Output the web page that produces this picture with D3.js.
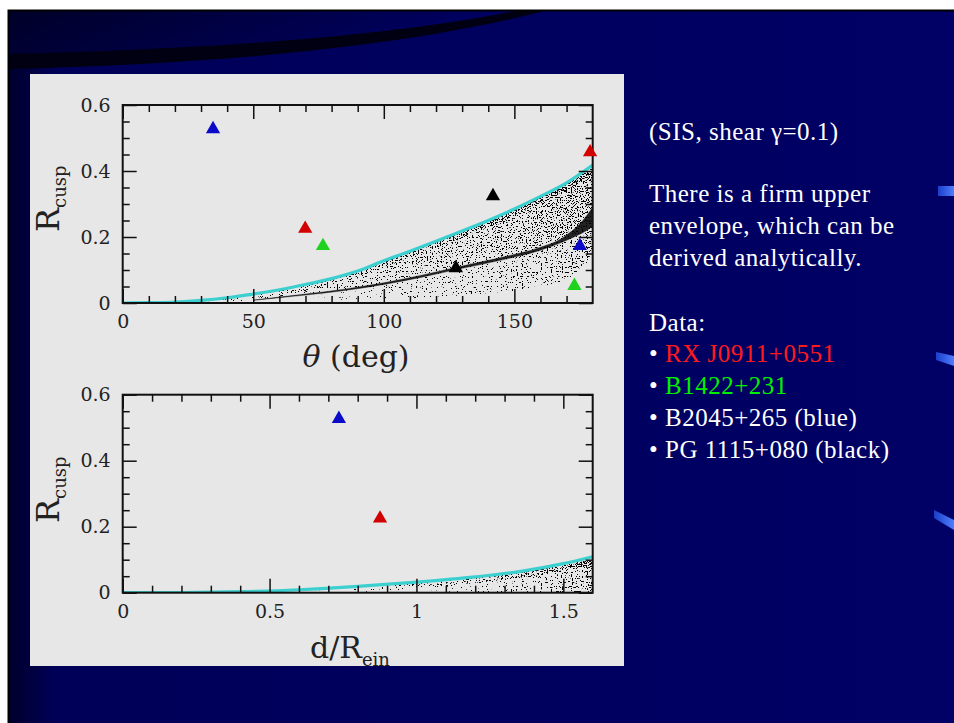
<!DOCTYPE html>
<html>
<head>
<meta charset="utf-8">
<script src="https://cdn.jsdelivr.net/npm/d3@7"></script>
<style>
  html, body { margin: 0; padding: 0; background: #ffffff; }
  svg { display: block; }
</style>
</head>
<body>
<svg id="slide" width="954" height="723"></svg>
<script>
// ---------------- data ----------------
// axis ticks
const thetaMajorTicks = [0, 50, 100, 150];
const thetaTickLabels = ["0", "50", "100", "150"];
const thetaMinorTicks = [10, 20, 30, 40, 60, 70, 80, 90, 110, 120, 130, 140, 160, 170];
const rMajorTicks = [0, 0.2, 0.4, 0.6];
const rTickLabels = ["0", "0.2", "0.4", "0.6"];
const rMinorTicks = [0.05, 0.1, 0.15, 0.25, 0.3, 0.35, 0.45, 0.5, 0.55];
const dMajorTicks = [0, 0.5, 1, 1.5];
const dTickLabels = ["0", "0.5", "1", "1.5"];
const dMinorTicks = [0.1, 0.2, 0.3, 0.4, 0.6, 0.7, 0.8, 0.9, 1.1, 1.2, 1.3, 1.4];

// analytic upper envelope, R_cusp vs opening angle theta (deg)
const envTheta = [0, 10, 20, 30, 40, 50, 60, 70, 80, 90, 100, 110, 120, 130, 140, 150, 160, 170, 180];
const envR     = [0, 0.001, 0.003, 0.008, 0.016, 0.027, 0.04, 0.056, 0.074, 0.097, 0.128, 0.157, 0.187, 0.218, 0.25, 0.285, 0.323, 0.364, 0.418];

// simulated cusp configurations: extent of the point cloud
const cloudTheta = [30, 40, 50, 60, 70, 80, 90, 100, 110, 120, 130, 140, 150, 160, 170, 175, 180];
const cloudLow   = [0, 0, 0.001, 0.002, 0.003, 0.005, 0.007, 0.01, 0.013, 0.017, 0.022, 0.028, 0.036, 0.048, 0.07, 0.1, 0.14];
const cloudHigh  = [0.007, 0.015, 0.025, 0.038, 0.054, 0.072, 0.095, 0.125, 0.155, 0.185, 0.216, 0.248, 0.283, 0.32, 0.36, 0.385, 0.41];
// dense ridge inside the cloud
const ridgeTheta = [50, 60, 70, 85, 100, 115, 130, 145, 160, 168, 172, 176, 180];
const ridgeLow   = [0.008, 0.016, 0.024, 0.038, 0.056, 0.079, 0.105, 0.13, 0.16, 0.183, 0.197, 0.212, 0.232];
const ridgeHigh  = [0.009, 0.018, 0.027, 0.042, 0.061, 0.085, 0.112, 0.138, 0.169, 0.195, 0.218, 0.248, 0.29];

// analytic upper envelope, R_cusp vs d / R_ein
const envD  = [0, 0.2, 0.4, 0.6, 0.8, 1.0, 1.2, 1.35, 1.5, 1.6];
const envDR = [0, 0.0005, 0.003, 0.009, 0.019, 0.032, 0.048, 0.064, 0.088, 0.109];
const dCloudD    = [0.5, 0.6, 0.7, 0.8, 0.9, 1.0, 1.1, 1.2, 1.3, 1.4, 1.5, 1.6];
const dCloudHigh = [0.003, 0.007, 0.011, 0.016, 0.022, 0.029, 0.037, 0.046, 0.057, 0.069, 0.084, 0.102];

// observed lenses
const lensNames  = ["RX J0911+0551", "B1422+231", "B2045+265", "PG 1115+080"];
const lensColors = ["#d20000", "#1ed21e", "#0a0ac8", "#000000"];
const obsLens  = ["RX J0911+0551", "RX J0911+0551", "B1422+231", "B1422+231", "B2045+265", "B2045+265", "PG 1115+080", "PG 1115+080"];
const obsTheta = [69.9, 179.0, 76.7, 173.0, 34.6, 175.1, 141.8, 127.6];
const obsR     = [0.225, 0.457, 0.173, 0.052, 0.527, 0.173, 0.324, 0.106];
const obsDLens = ["B2045+265", "RX J0911+0551"];
const obsD     = [0.736, 0.876];
const obsDR    = [0.527, 0.225];

// slide text
const noteLines = [
  { t: "(SIS, shear \u03b3=0.1)", c: "#ffffff", bullet: false },
  { t: "There is a firm upper", c: "#ffffff", bullet: false },
  { t: "envelope, which can be", c: "#ffffff", bullet: false },
  { t: "derived analytically.", c: "#ffffff", bullet: false },
  { t: "Data:", c: "#ffffff", bullet: false },
  { t: "RX J0911+0551", c: "#ff1a1a", bullet: true },
  { t: "B1422+231", c: "#00f000", bullet: true },
  { t: "B2045+265 (blue)", c: "#ffffff", bullet: true },
  { t: "PG 1115+080 (black)", c: "#ffffff", bullet: true }
];
const noteBaselines = [140, 202, 234, 266, 331, 362, 394, 426, 458];

// ---------------- drawing ----------------
const svg = d3.select("#slide");
const defs = svg.append("defs");
const color = d3.scaleOrdinal().domain(lensNames).range(lensColors);

// slide background
const bgGrad = defs.append("linearGradient").attr("id", "bgGrad")
  .attr("x1", 0).attr("y1", 0).attr("x2", 1).attr("y2", 0);
bgGrad.append("stop").attr("offset", 0).attr("stop-color", "#00002a");
bgGrad.append("stop").attr("offset", 0.05).attr("stop-color", "#000058");
bgGrad.append("stop").attr("offset", 1).attr("stop-color", "#000066");
const topGrad = defs.append("linearGradient").attr("id", "topGrad")
  .attr("x1", 0).attr("y1", 0).attr("x2", 1).attr("y2", 0.2);
topGrad.append("stop").attr("offset", 0).attr("stop-color", "#000028");
topGrad.append("stop").attr("offset", 0.6).attr("stop-color", "#00004c");
topGrad.append("stop").attr("offset", 1).attr("stop-color", "#000066");
const barGrad = defs.append("linearGradient").attr("id", "barGrad")
  .attr("x1", 0).attr("y1", 0).attr("x2", 1).attr("y2", 0);
barGrad.append("stop").attr("offset", 0).attr("stop-color", "#1a3fc8");
barGrad.append("stop").attr("offset", 1).attr("stop-color", "#4f7dff");

svg.append("rect").attr("width", 954).attr("height", 723).attr("fill", "#ffffff");
svg.append("rect").attr("x", 8).attr("y", 10).attr("width", 946).attr("height", 713).attr("fill", "url(#bgGrad)");
svg.append("path").attr("d", "M8,10 L520,10 C400,36 220,50 8,55 Z").attr("fill", "url(#topGrad)");
svg.append("path").attr("d", "M8,54 C220,49 400,35 520,10 L548,10 C420,44 230,64 8,69 Z").attr("fill", "#000012");
svg.append("path").attr("d", "M8.5,723 L8.5,10.5 L954,10.5").attr("fill", "none").attr("stroke", "#000000").attr("stroke-width", 2);
// right edge accents
svg.append("path").attr("d", "M938,186 L954,186 L954,196 L938,196 Z").attr("fill", "url(#barGrad)");
svg.append("path").attr("d", "M936,352 L954,356 L954,366 L936,360 Z").attr("fill", "url(#barGrad)");
svg.append("path").attr("d", "M934,510 L954,520 L954,530 L934,518 Z").attr("fill", "url(#barGrad)");

// figure panel
svg.append("rect").attr("x", 30).attr("y", 74).attr("width", 594).attr("height", 592).attr("fill", "#e7e7e7");

// stipple filter: turns filled areas into a speckle of dots whose density follows the fill opacity
const st = defs.append("filter").attr("id", "stipple")
  .attr("color-interpolation-filters", "sRGB")
  .attr("x", -0.05).attr("y", -0.05).attr("width", 1.1).attr("height", 1.1);
st.append("feTurbulence").attr("type", "fractalNoise").attr("baseFrequency", 0.8)
  .attr("numOctaves", 1).attr("seed", 11).attr("result", "noise");
st.append("feColorMatrix").attr("in", "noise").attr("type", "matrix")
  .attr("values", "0 0 0 0 0  0 0 0 0 0  0 0 0 0 0  2.5 0 0 0 -0.75").attr("result", "na");
st.append("feComposite").attr("in", "na").attr("in2", "SourceAlpha").attr("operator", "arithmetic")
  .attr("k1", 0).attr("k2", 1).attr("k3", 1).attr("k4", -1).attr("result", "sum");
st.append("feComponentTransfer").attr("in", "sum")
  .append("feFuncA").attr("type", "linear").attr("slope", 24).attr("intercept", -12);

function hGrad(id, x, stops) {
  const g = defs.append("linearGradient").attr("id", id)
    .attr("gradientUnits", "userSpaceOnUse")
    .attr("x1", x(stops[0][0])).attr("x2", x(stops[stops.length - 1][0]))
    .attr("y1", 0).attr("y2", 0);
  const span = stops[stops.length - 1][0] - stops[0][0];
  stops.forEach(s => g.append("stop")
    .attr("offset", (s[0] - stops[0][0]) / span)
    .attr("stop-color", "#000").attr("stop-opacity", s[1]));
}

const L = 122.7, R = 592.7;
const fontTick = "DejaVu Serif, serif";

function frame(g, x, y, xMaj, xLab, xMin, yMaj, yLab, yMin, top, bottom, clipId) {
  defs.append("clipPath").attr("id", clipId).append("rect")
    .attr("x", L).attr("y", top).attr("width", R - L).attr("height", bottom - top);
  const tickStyle = sel => {
    sel.select(".domain").remove();
    sel.selectAll(".tick line").attr("stroke", "#111").attr("stroke-width", 1.5);
  };
  // inward ticks on all four sides
  g.append("g").attr("transform", `translate(0,${bottom})`)
    .call(d3.axisBottom(x).tickValues(xMaj).tickSize(-14).tickFormat("")).call(tickStyle);
  g.append("g").attr("transform", `translate(0,${bottom})`)
    .call(d3.axisBottom(x).tickValues(xMin).tickSize(-7).tickFormat("")).call(tickStyle);
  g.append("g").attr("transform", `translate(0,${top})`)
    .call(d3.axisTop(x).tickValues(xMaj).tickSize(-14).tickFormat("")).call(tickStyle);
  g.append("g").attr("transform", `translate(0,${top})`)
    .call(d3.axisTop(x).tickValues(xMin).tickSize(-7).tickFormat("")).call(tickStyle);
  g.append("g").attr("transform", `translate(${L},0)`)
    .call(d3.axisLeft(y).tickValues(yMaj).tickSize(-14).tickFormat("")).call(tickStyle);
  g.append("g").attr("transform", `translate(${L},0)`)
    .call(d3.axisLeft(y).tickValues(yMin).tickSize(-7).tickFormat("")).call(tickStyle);
  g.append("g").attr("transform", `translate(${R},0)`)
    .call(d3.axisRight(y).tickValues(yMaj).tickSize(-14).tickFormat("")).call(tickStyle);
  g.append("g").attr("transform", `translate(${R},0)`)
    .call(d3.axisRight(y).tickValues(yMin).tickSize(-7).tickFormat("")).call(tickStyle);
  // tick labels
  const xl = g.append("g").attr("transform", `translate(0,${bottom})`)
    .call(d3.axisBottom(x).tickValues(xMaj).tickSize(0).tickPadding(12)
      .tickFormat((d, i) => xLab[i]));
  xl.select(".domain").remove();
  xl.selectAll("text").attr("font-family", fontTick).attr("font-size", 19).attr("fill", "#222");
  const yl = g.append("g").attr("transform", `translate(${L},0)`)
    .call(d3.axisLeft(y).tickValues(yMaj).tickSize(0).tickPadding(12)
      .tickFormat((d, i) => yLab[i]));
  yl.select(".domain").remove();
  yl.selectAll("text").attr("font-family", fontTick).attr("font-size", 19).attr("fill", "#222");
  // frame
  g.append("rect").attr("x", L).attr("y", top).attr("width", R - L).attr("height", bottom - top)
    .attr("fill", "none").attr("stroke", "#111").attr("stroke-width", 2);
}

function yTitle(g, xPos, yPos) {
  const t = g.append("text").attr("transform", `translate(${xPos},${yPos}) rotate(-90)`)
    .attr("font-family", fontTick).attr("fill", "#222");
  t.append("tspan").attr("font-size", 32).text("R");
  t.append("tspan").attr("font-size", 18).attr("dy", 7).text("cusp");
}

function triangles(g, xs, ys, names, x, y) {
  g.selectAll("path.obs").data(xs).join("path").attr("class", "obs")
    .attr("transform", (d, i) => `translate(${x(d)},${y(ys[i])})`)
    .attr("d", d3.symbol(d3.symbolTriangle, 88))
    .attr("fill", (d, i) => color(names[i]));
}

// ---- upper panel: R_cusp vs theta ----
const top1 = 105, bot1 = 303;
const x1 = d3.scaleLinear().domain([0, 180]).range([L, R]);
const y1 = d3.scaleLinear().domain([0, 0.6]).range([bot1, top1]);
const p1 = svg.append("g");
const c1 = p1.append("g").attr("clip-path", "url(#clip1)");

hGrad("sparse1", x1, [[30, 0.38], [80, 0.52], [130, 0.62], [170, 0.7], [180, 0.76]]);
hGrad("dense1", x1, [[50, 0.55], [100, 0.68], [150, 0.76], [180, 0.86]]);
hGrad("edge1", x1, [[20, 0.5], [80, 0.68], [140, 0.82], [180, 0.92]]);

const cloudArea = d3.area()
  .x((d, i) => x1(cloudTheta[i])).y0((d, i) => y1(cloudLow[i])).y1((d, i) => y1(cloudHigh[i]));
c1.append("path").attr("d", cloudArea(cloudTheta)).attr("fill", "url(#sparse1)").attr("filter", "url(#stipple)");

const ridgeUpPts = ridgeTheta.map((t, i) => [x1(t), y1(ridgeHigh[i])]);
const cloudTopPts = cloudTheta.filter(t => t >= 50).map(t => [x1(t), y1(cloudHigh[cloudTheta.indexOf(t)])]).reverse();
c1.append("path").attr("d", d3.line()(ridgeUpPts.concat(cloudTopPts)) + "Z")
  .attr("fill", "url(#dense1)").attr("filter", "url(#stipple)");

const cloudTopLine = d3.line().x((d, i) => x1(cloudTheta[i])).y((d, i) => y1(cloudHigh[i])).curve(d3.curveMonotoneX);
c1.append("path").attr("d", cloudTopLine(cloudTheta)).attr("transform", "translate(0,3)")
  .attr("fill", "none").attr("stroke", "url(#edge1)").attr("stroke-width", 6).attr("filter", "url(#stipple)");

const ridgeArea = d3.area().curve(d3.curveMonotoneX)
  .x((d, i) => x1(ridgeTheta[i])).y0((d, i) => y1(ridgeLow[i])).y1((d, i) => y1(ridgeHigh[i]));
c1.append("path").attr("d", ridgeArea(ridgeTheta)).attr("fill", "#000").attr("fill-opacity", 0.85)
  .attr("stroke", "#000").attr("stroke-width", 0.6).attr("stroke-opacity", 0.6);

const envLine1 = d3.line().x((d, i) => x1(envTheta[i])).y((d, i) => y1(envR[i])).curve(d3.curveMonotoneX);
c1.append("path").attr("d", envLine1(envTheta)).attr("fill", "none")
  .attr("stroke", "#3ccfcf").attr("stroke-width", 3.2);

frame(p1, x1, y1, thetaMajorTicks, thetaTickLabels, thetaMinorTicks, rMajorTicks, rTickLabels, rMinorTicks, top1, bot1, "clip1");
triangles(p1, obsTheta, obsR, obsLens, x1, y1);
yTitle(p1, 59, 232);
const xt1 = p1.append("text").attr("x", 356).attr("y", 367).attr("text-anchor", "middle")
  .attr("font-family", fontTick).attr("font-size", 30).attr("fill", "#222");
xt1.append("tspan").attr("font-style", "italic").text("\u03b8");
xt1.append("tspan").text(" (deg)");

// ---- lower panel: R_cusp vs d / R_ein ----
const top2 = 394.7, bot2 = 592.7;
const x2 = d3.scaleLinear().domain([0, 1.6]).range([L, R]);
const y2 = d3.scaleLinear().domain([0, 0.6]).range([bot2, top2]);
const p2 = svg.append("g");
const c2 = p2.append("g").attr("clip-path", "url(#clip2)");

hGrad("sparse2", x2, [[0.5, 0.32], [0.9, 0.46], [1.2, 0.56], [1.45, 0.66], [1.6, 0.74]]);
hGrad("edge2", x2, [[0.6, 0.48], [1.0, 0.64], [1.3, 0.78], [1.6, 0.9]]);
const dArea = d3.area()
  .x((d, i) => x2(dCloudD[i])).y0(y2(0)).y1((d, i) => y2(dCloudHigh[i]));
c2.append("path").attr("d", dArea(dCloudD)).attr("fill", "url(#sparse2)").attr("filter", "url(#stipple)");
const dTopLine = d3.line().x((d, i) => x2(dCloudD[i])).y((d, i) => y2(dCloudHigh[i])).curve(d3.curveMonotoneX);
c2.append("path").attr("d", dTopLine(dCloudD)).attr("transform", "translate(0,3)")
  .attr("fill", "none").attr("stroke", "url(#edge2)").attr("stroke-width", 6).attr("filter", "url(#stipple)");

const envLine2 = d3.line().x((d, i) => x2(envD[i])).y((d, i) => y2(envDR[i])).curve(d3.curveMonotoneX);
c2.append("path").attr("d", envLine2(envD)).attr("fill", "none")
  .attr("stroke", "#3ccfcf").attr("stroke-width", 3.2);

frame(p2, x2, y2, dMajorTicks, dTickLabels, dMinorTicks, rMajorTicks, rTickLabels, rMinorTicks, top2, bot2, "clip2");
triangles(p2, obsD, obsDR, obsDLens, x2, y2);
yTitle(p2, 59, 523);
const xt2 = p2.append("text").attr("x", 350).attr("y", 658).attr("text-anchor", "middle")
  .attr("font-family", fontTick).attr("font-size", 30).attr("fill", "#222");
xt2.append("tspan").text("d/R");
xt2.append("tspan").attr("font-size", 18).attr("dy", 8).text("ein");

// ---- slide notes ----
const notes = svg.append("g").attr("font-family", "Liberation Serif, Times New Roman, serif")
  .attr("font-size", 25).attr("letter-spacing", 0.5);
noteLines.forEach((ln, i) => {
  const t = notes.append("text").attr("x", 649).attr("y", noteBaselines[i]);
  if (ln.bullet) {
    t.append("tspan").attr("fill", "#ffffff").text("\u2022 ");
  }
  t.append("tspan").attr("fill", ln.c).text(ln.t);
});
</script>
</body>
</html>
